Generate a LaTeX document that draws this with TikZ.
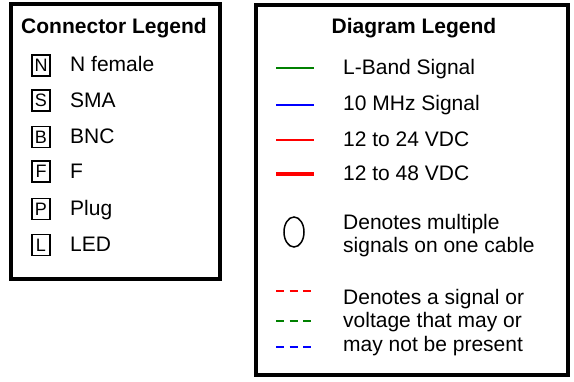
\documentclass[tikz,border=0pt]{standalone}
\usepackage{fontspec}
\setmainfont{Liberation Sans}
\usetikzlibrary{shapes.geometric}
\begin{document}
\begin{tikzpicture}[x=1pt,y=-1pt,
  frame/.style={draw=black,line width=4pt},
  title/.style={anchor=base,font=\fontsize{21}{24}\selectfont\bfseries,inner sep=0pt},
  lbl/.style={anchor=base west,font=\fontsize{21}{24}\selectfont,inner sep=0pt},
  conbox/.style={draw=black,line width=1.5pt,minimum width=18pt,minimum height=21pt,inner sep=0pt,font=\fontsize{18}{19}\selectfont},
  sig/.style={line width=1.7pt},
  dsh/.style={line width=1.7pt,dash pattern=on 8pt off 5.5pt}]
\useasboundingbox (0,0) rectangle (574,381);
\definecolor{lgreen}{RGB}{0,128,0}
\definecolor{lblue}{RGB}{0,0,255}
\definecolor{lred}{RGB}{255,0,0}
% Connector legend
\draw[frame] (11,4) rectangle (220.3,279.3);
\node[title] (ctitle) at (114,33) {Connector Legend};
\foreach \n/\t/\y in {n/N/65.3,s/S/100.5,b/B/137,f/F/171.5,p/P/209,l/L/245}{
  \node[conbox] (box\n) at (41,\y) {\t};
}
\node[lbl] (ln) at (70,71.7) {N female};
\node[lbl] (ls) at (70,107.2) {SMA};
\node[lbl] (lb) at (70,143.7) {BNC};
\node[lbl] (lf) at (70,178.2) {F};
\node[lbl] (lp) at (70,215.7) {Plug};
\node[lbl] (ll) at (70,251.7) {LED};
% Diagram legend
\draw[frame] (256.3,5) rectangle (567.5,374.5);
\node[title] (dtitle) at (414,33) {Diagram Legend};
\coordinate (g1) at (276,68.3); \coordinate (g2) at (314,68.3);
\coordinate (b1) at (276,105.3); \coordinate (b2) at (314,105.3);
\coordinate (r1) at (276,140); \coordinate (r2) at (314,140);
\coordinate (t1) at (276,174); \coordinate (t2) at (314,174);
\draw[sig,lgreen] (g1) -- (g2);
\draw[sig,lblue] (b1) -- (b2);
\draw[sig,lred] (r1) -- (r2);
\draw[line width=4pt,lred] (t1) -- (t2);
\node[lbl] (lg) at (343,74) {L-Band Signal};
\node[lbl] (lbu) at (343,110.5) {10 MHz Signal};
\node[lbl] (lr) at (343,146.5) {12 to 24 VDC};
\node[lbl] (lt) at (343,180.5) {12 to 48 VDC};
\node[draw=black,line width=1.5pt,ellipse,minimum width=20pt,minimum height=30pt,inner sep=0pt] (ell) at (294,232) {};
\node[lbl] (m1) at (343,229.3) {Denotes multiple};
\node[lbl] (m2) at (343,252.7) {signals on one cable};
\coordinate (dr1) at (276,291); \coordinate (dr2) at (311.7,291);
\coordinate (dg1) at (276,320.7); \coordinate (dg2) at (311.7,320.7);
\coordinate (db1) at (276,347); \coordinate (db2) at (311.7,347);
\draw[dsh,lred] (dr1) -- (dr2);
\draw[dsh,lgreen] (dg1) -- (dg2);
\draw[dsh,lblue] (db1) -- (db2);
\node[lbl] (p1) at (343,304.3) {Denotes a signal or};
\node[lbl] (p2) at (343,327.7) {voltage that may or};
\node[lbl] (p3) at (343,351.7) {may not be present};
\end{tikzpicture}
\end{document}
